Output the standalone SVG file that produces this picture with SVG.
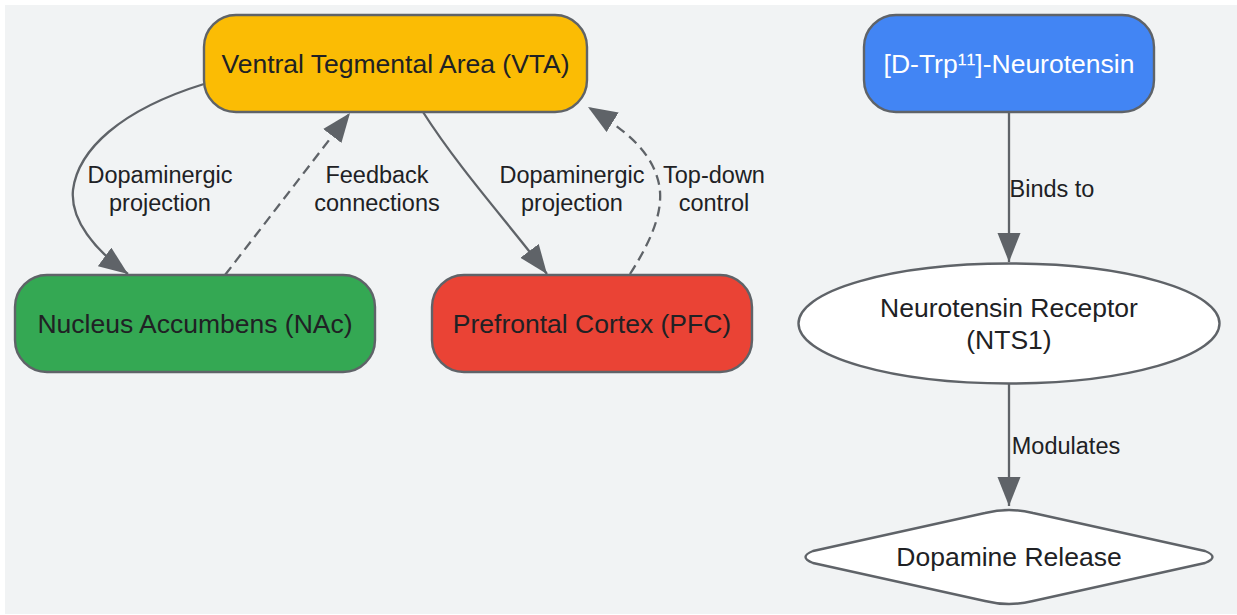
<svg xmlns="http://www.w3.org/2000/svg" width="1237" height="615" viewBox="0 0 1237 615">
<style>
.node{stroke:#5f6368;stroke-width:2.4}
.nt{font-family:"Liberation Sans",Arial,sans-serif;font-size:26.5px;fill:#202124;text-anchor:middle}
.lt{font-family:"Liberation Sans",Arial,sans-serif;font-size:23.5px;fill:#202124;text-anchor:middle}
.edge{fill:none;stroke:#5f6368;stroke-width:2.3}
.dash{stroke-dasharray:10 6}
</style>
<defs>
<marker id="arr" markerUnits="userSpaceOnUse" markerWidth="31" markerHeight="24" refX="29" refY="11.5" orient="auto">
<path d="M0,0 L29,11.5 L0,23 z" fill="#5f6368"/>
</marker>
</defs>
<rect x="5" y="5" width="1232" height="609" fill="#f1f3f4"/>
<g id="edges">
<path class="edge" d="M204,84 C120,110 78,150 73,190 C70,220 95,250 128,274" marker-end="url(#arr)"/>
<path class="edge dash" d="M225,275 L350,113" marker-end="url(#arr)"/>
<path class="edge" d="M423,112 C460,170 510,225 547,274" marker-end="url(#arr)"/>
<path class="edge dash" d="M630,274 C655,235 665,205 658,180 C650,150 625,130 588,107" marker-end="url(#arr)"/>
<path class="edge" d="M1009,112 L1009,262" marker-end="url(#arr)"/>
<path class="edge" d="M1009,384 L1009,506" marker-end="url(#arr)"/>
<text class="lt"><tspan x="160" y="183">Dopaminergic</tspan><tspan x="160" y="211">projection</tspan></text>
<text class="lt"><tspan x="377" y="183">Feedback</tspan><tspan x="377" y="211">connections</tspan></text>
<text class="lt"><tspan x="572" y="183">Dopaminergic</tspan><tspan x="572" y="211">projection</tspan></text>
<text class="lt"><tspan x="714" y="183">Top-down</tspan><tspan x="714" y="211">control</tspan></text>
<text class="lt" x="1052" y="197">Binds to</text>
<text class="lt" x="1066" y="454">Modulates</text>
</g>
<g id="vta">
<rect class="node" x="204" y="15" width="383" height="97" rx="32" fill="#fbbc04"/>
<text class="nt" x="395.5" y="73">Ventral Tegmental Area (VTA)</text>
</g>
<g id="nac">
<rect class="node" x="15" y="275" width="360" height="97" rx="32" fill="#34a853"/>
<text class="nt" x="195" y="333">Nucleus Accumbens (NAc)</text>
</g>
<g id="pfc">
<rect class="node" x="432" y="275" width="320" height="97" rx="32" fill="#ea4335"/>
<text class="nt" x="592" y="333">Prefrontal Cortex (PFC)</text>
</g>
<g id="dtrp">
<rect class="node" x="864" y="15" width="290" height="97" rx="32" fill="#4285f4"/>
<text class="nt" x="1009" y="73" style="fill:#ffffff">[D-Trp¹¹]-Neurotensin</text>
</g>
<g id="nts1">
<ellipse class="node" cx="1009" cy="323.5" rx="210.5" ry="60" fill="#ffffff"/>
<text class="nt"><tspan x="1009" y="317">Neurotensin Receptor</tspan><tspan x="1009" y="349">(NTS1)</tspan></text>
</g>
<g id="dopamine">
<path class="node" d="M985,513 Q1009,507 1033,513 L1205,551 Q1220,557 1205,563 L1033,601 Q1009,607 985,601 L813,563 Q798,557 813,551 Z" fill="#ffffff" stroke-linejoin="round"/>
<text class="nt" x="1009" y="566">Dopamine Release</text>
</g>
</svg>
